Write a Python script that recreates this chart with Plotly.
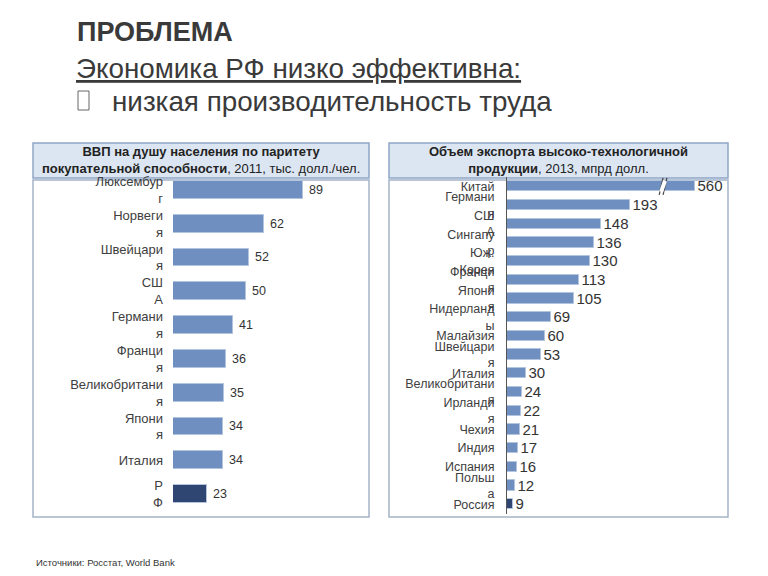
import plotly.graph_objects as go

W, H = 768, 576

# ---- data ----
gdp_countries = ["Люксембур<br>г", "Норвеги<br>я", "Швейцари<br>я", "СШ<br>А", "Германи<br>я",
                 "Франци<br>я", "Великобритани<br>я", "Япони<br>я", "Италия", "Р<br>Ф"]
gdp_values = [89, 62, 52, 50, 41, 36, 35, 34, 34, 23]

exp_countries = ["Китай", "Германи<br>я", "СШ<br>А", "Сингапу<br>р", "Юж.<br>Корея", "Франци<br>я",
                 "Япони<br>я", "Нидерланд<br>ы", "Малайзия", "Швейцари<br>я", "Италия",
                 "Великобритани<br>я", "Ирланди<br>я", "Чехия", "Индия", "Испания", "Польш<br>а", "Россия"]
exp_values = [560, 193, 148, 136, 130, 113, 105, 69, 60, 53, 30, 24, 22, 21, 17, 16, 12, 9]
exp_axis_cap = 295      # China's bar is drawn broken (axis break) at this length
exp_break_at = 245      # position of the break marks

BAR = "#6f8fc1"
BAR_EDGE = "#b3c4de"
DARK = "#2f4672"
TXT = "#333333"

def px(x):
    return x / W

def py(y):
    return 1 - y / H

fig = go.Figure()

gdp_colors = [BAR] * (len(gdp_values) - 1) + [DARK]
fig.add_trace(go.Bar(
    x=gdp_values, y=gdp_countries, orientation="h",
    marker=dict(color=gdp_colors, line=dict(color=BAR_EDGE, width=1)),
    width=0.53, text=[" " + str(v) for v in gdp_values], textposition="outside",
    constraintext="none",
    textfont=dict(size=12.5, color=TXT, family="Liberation Sans"),
    cliponaxis=False, xaxis="x", yaxis="y", showlegend=False))

exp_draw = [min(v, exp_axis_cap) for v in exp_values]
exp_colors = [BAR] * (len(exp_values) - 1) + [DARK]
fig.add_trace(go.Bar(
    x=exp_draw, y=exp_countries, orientation="h",
    marker=dict(color=exp_colors, line=dict(color=BAR_EDGE, width=1)),
    width=0.55, text=[str(v) for v in exp_values], textposition="outside",
    constraintext="none",
    textfont=dict(size=15, color=TXT, family="Liberation Sans"),
    cliponaxis=False, xaxis="x2", yaxis="y2", showlegend=False))

# axis break marks on China bar
for dx in (-3, 3):
    fig.add_shape(type="line", xref="x2", yref="y2",
                  x0=exp_break_at - 3 + dx, x1=exp_break_at + 3 + dx, y0=0.45, y1=-0.45,
                  line=dict(color="#444444", width=1.2))
fig.add_shape(type="line", xref="x2", yref="y2",
              x0=exp_break_at - 3, x1=exp_break_at + 3, y0=0.3, y1=-0.3,
              line=dict(color="white", width=4))

# panel boxes
for (x0, x1) in [(33, 369), (389, 728)]:
    fig.add_shape(type="rect", xref="paper", yref="paper",
                  x0=px(x0), x1=px(x1), y0=py(178), y1=py(143),
                  fillcolor="#dce6f2", line=dict(color="#8fa6c6", width=1.5), layer="below")
    fig.add_shape(type="rect", xref="paper", yref="paper",
                  x0=px(x0), x1=px(x1), y0=py(517), y1=py(180),
                  fillcolor="rgba(0,0,0,0)", line=dict(color="#a4b3c9", width=1.5), layer="below")

# bullet box
fig.add_shape(type="rect", xref="paper", yref="paper",
              x0=px(78), x1=px(89), y0=py(110), y1=py(91),
              line=dict(color="#666666", width=1), fillcolor="rgba(0,0,0,0)")

ann = []
ann.append(dict(text="<b>ПРОБЛЕМА</b>", x=px(75), y=py(32), xanchor="left", yanchor="middle",
                font=dict(size=27, color="#3a3a3a", family="Liberation Sans")))
ann.append(dict(text="<u>Экономика РФ низко эффективна:</u>", x=px(74), y=py(68), xanchor="left",
                yanchor="middle", font=dict(size=27.8, color="#3a3a3a", family="Liberation Sans")))
ann.append(dict(text="низкая производительность труда", x=px(110), y=py(101), xanchor="left",
                yanchor="middle", font=dict(size=27.8, color="#3a3a3a", family="Liberation Sans")))
ann.append(dict(text="<b>ВВП на душу населения по паритету</b><br><b>покупательной способности</b>, 2011, тыс. долл./чел.",
                x=px(201), y=py(160.5), xanchor="center", yanchor="middle",
                font=dict(size=13, color="#222222", family="Liberation Sans")))
ann.append(dict(text="<b>Объем экспорта высоко-технологичной</b><br><b>продукции</b>, 2013, мпрд долл.",
                x=px(558), y=py(160.5), xanchor="center", yanchor="middle",
                font=dict(size=13, color="#222222", family="Liberation Sans")))
ann.append(dict(text="Источники: Росстат, World Bank", x=px(34), y=py(562), xanchor="left",
                yanchor="middle", font=dict(size=9.5, color="#333333", family="Liberation Sans")))
for a in ann:
    a.update(xref="paper", yref="paper", showarrow=False, align="center")

n1 = len(gdp_countries)
n2 = len(exp_countries)
fig.update_layout(
    width=W, height=H, margin=dict(l=0, r=0, t=0, b=0),
    paper_bgcolor="white", plot_bgcolor="rgba(0,0,0,0)",
    annotations=ann, bargap=0,
    xaxis=dict(domain=[px(173), px(365)], range=[0, 192 / 1.46], visible=False, fixedrange=True),
    yaxis=dict(domain=[py(511), py(173)], type="category", categoryorder="array",
               categoryarray=gdp_countries, range=[n1 - 0.5, -0.5], anchor="x",
               showgrid=False, zeroline=False, showline=False, ticks="",
               ticklabelstandoff=9,
               tickfont=dict(size=13, color="#404040", family="Liberation Sans")),
    xaxis2=dict(domain=[px(507), px(725)], range=[0, 218 / 0.637], visible=False, fixedrange=True,
                anchor="y2"),
    yaxis2=dict(domain=[py(513.5), py(177)], type="category", categoryorder="array",
                categoryarray=exp_countries, range=[n2 - 0.5, -0.5], anchor="x2",
                showgrid=False, zeroline=False, showline=True, linecolor="#555555", linewidth=1,
                ticks="", ticklabelstandoff=9,
                tickfont=dict(size=12.5, color="#404040", family="Liberation Sans")),
)

fig.write_html("out.html")
